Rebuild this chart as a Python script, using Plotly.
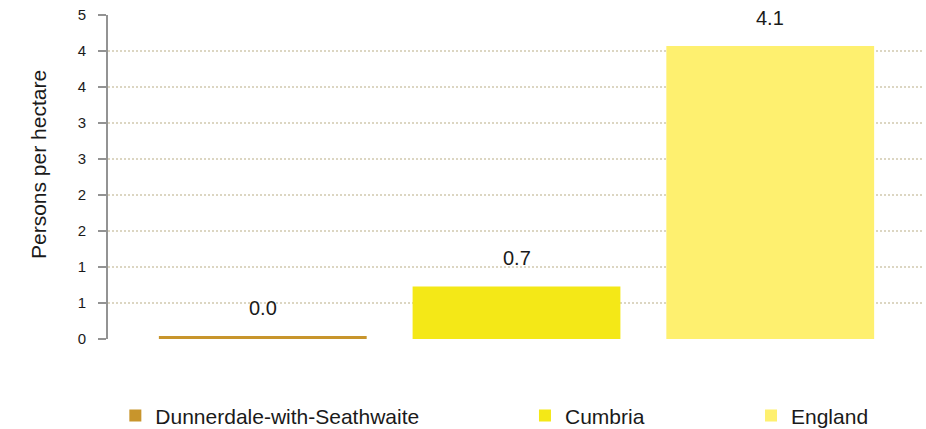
import plotly.graph_objects as go

# Population density by area
areas = ["Dunnerdale-with-Seathwaite", "Cumbria", "England"]
persons_per_hectare = [0.04, 0.73, 4.07]
bar_colors = ["#C8952C", "#F4E817", "#FEF06F"]

# Excel-style axis: 0.5 steps shown as rounded whole numbers
y_tick_values = [0, 0.5, 1.0, 1.5, 2.0, 2.5, 3.0, 3.5, 4.0, 4.5]
y_tick_labels = ["0", "1", "1", "2", "2", "3", "3", "4", "4", "5"]

FONT = "Liberation Sans, Arial, sans-serif"
TEXT = "#1a1a1a"

legend_x = [0.009, 0.511, 0.788]
legend_ids = ["legend", "legend2", "legend3"]

fig = go.Figure()
for i, (name, val, col) in enumerate(zip(areas, persons_per_hectare, bar_colors)):
    fig.add_trace(go.Bar(
        x=[i], y=[val], name=name, width=0.819,
        marker=dict(color=col, line=dict(width=0)),
        legend=legend_ids[i], hoverinfo="skip",
    ))
    fig.add_annotation(
        x=i, y=val, text=f"{val:.1f}", showarrow=False,
        yanchor="bottom", yshift=15,
        font=dict(family=FONT, size=20, color=TEXT),
    )

# vertical axis title
fig.add_annotation(
    text="Persons per hectare", textangle=-90, showarrow=False,
    xref="paper", yref="paper", x=0, y=0.537, xanchor="center", yanchor="middle",
    xshift=-70, font=dict(family=FONT, size=21, color=TEXT),
)

legend_style = dict(
    orientation="h", xanchor="left", yanchor="middle", y=-0.237,
    bgcolor="rgba(0,0,0,0)", font=dict(family=FONT, size=21, color=TEXT),
)

fig.update_layout(
    width=926, height=429,
    margin=dict(l=108, r=2, t=15, b=90, autoexpand=False),
    paper_bgcolor="white", plot_bgcolor="white",
    showlegend=True,
    legend=dict(x=legend_x[0], **legend_style),
    legend2=dict(x=legend_x[1], **legend_style),
    legend3=dict(x=legend_x[2], **legend_style),
    xaxis=dict(
        range=[-0.610, 2.606], showticklabels=False, showgrid=False,
        zeroline=False, showline=False, ticks="",
    ),
    yaxis=dict(
        range=[0, 4.5], tickmode="array",
        tickvals=y_tick_values, ticktext=y_tick_labels,
        showgrid=True, gridcolor="#DCD6C2", gridwidth=1.5, griddash="2px,2px",
        zeroline=False, showline=True, linecolor="#939393", linewidth=2,
        ticks="outside", ticklen=8, tickwidth=2, tickcolor="#939393",
        ticklabelstandoff=9,
        tickfont=dict(family=FONT, size=15, color=TEXT),
    ),
)

fig.write_html("out.html")
